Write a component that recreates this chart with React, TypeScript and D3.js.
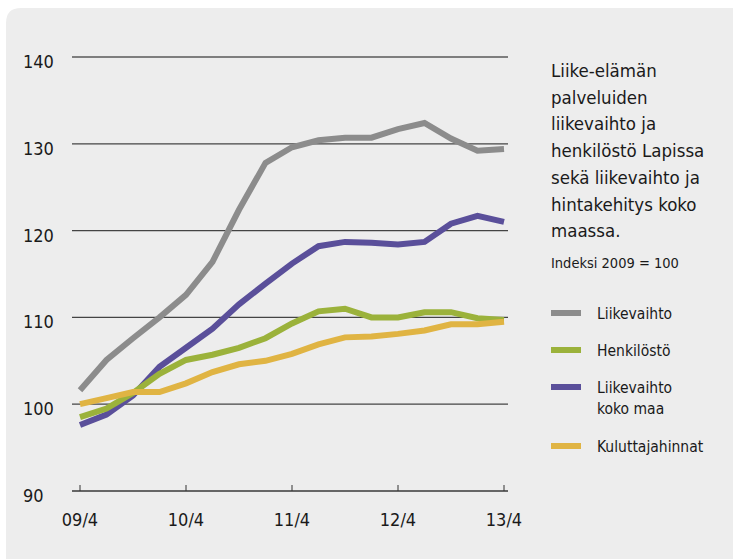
import React from "react";
import * as d3 from "d3";

// quarterly points, 09/4 .. 13/4
const quarters = d3.range(17); // quarter index since 2009 Q4
const tickLabels = ["09/4", "10/4", "11/4", "12/4", "13/4"];
const yTicks = [90, 100, 110, 120, 130, 140];

const liikevaihto = [101.6, 105.1, 107.6, 110.0, 112.6, 116.4, 122.4, 127.8, 129.6, 130.4, 130.7, 130.7, 131.7, 132.4, 130.6, 129.2, 129.4];
const henkilosto = [98.5, 99.5, 101.3, 103.5, 105.1, 105.7, 106.5, 107.6, 109.3, 110.7, 111.0, 110.0, 110.0, 110.6, 110.6, 109.9, 109.7];
const kokoMaa = [97.6, 98.8, 101.0, 104.3, 106.5, 108.7, 111.5, 113.9, 116.2, 118.2, 118.7, 118.6, 118.4, 118.7, 120.8, 121.7, 121.0];
const kuluttajahinnat = [100.0, 100.7, 101.4, 101.4, 102.4, 103.7, 104.6, 105.0, 105.8, 106.9, 107.7, 107.8, 108.1, 108.5, 109.2, 109.2, 109.5];

const seriesNames = ["Liikevaihto", "Henkilöstö", "Liikevaihto\nkoko maa", "Kuluttajahinnat"];
const seriesColors = ["#8c8c8c", "#9bb23b", "#5a4f9a", "#e0b443"];
// drawing order: purple and grey under, green and yellow on top
const drawOrder = [0, 2, 1, 3];

const titleLines = [
  "Liike-elämän",
  "palveluiden",
  "liikevaihto ja",
  "henkilöstö Lapissa",
  "sekä liikevaihto ja",
  "hintakehitys koko",
  "maassa.",
];
const subtitle = "Indeksi 2009 = 100";

const FONT = "'Liberation Sans Narrow', 'DejaVu Sans Condensed', 'Roboto', sans-serif";

const App: React.FC = () => {
  const width = 733;
  const height = 559;
  const data = [liikevaihto, henkilosto, kokoMaa, kuluttajahinnat];

  const x = d3.scaleLinear().domain([0, 16]).range([80, 504]);
  const y = d3.scaleLinear().domain([90, 140]).range([491, 57]);

  const line = d3
    .line<number>()
    .x((_, i) => x(quarters[i]))
    .y((d) => y(d));

  const panel = `M6,23 Q6,8 21,8 L${width},8 L${width},${height} L6,${height} Z`;

  return (
    <svg
      width={width}
      height={height}
      style={{ position: "absolute", left: 0, top: 0, display: "block" }}
      fontFamily={FONT}
    >
      <rect width={width} height={height} fill="#ffffff" />
      <path d={panel} fill="#ededed" />

      {/* grid lines */}
      {yTicks
        .filter((t) => t > 90)
        .map((t) => (
          <line
            key={t}
            x1={72}
            x2={508}
            y1={y(t)}
            y2={y(t)}
            stroke={t === 140 ? "#111" : "#444"}
            strokeWidth={1.2}
          />
        ))}

      {/* x axis */}
      <line x1={72} x2={508} y1={y(90)} y2={y(90)} stroke="#666" strokeWidth={2} />
      {tickLabels.map((l, i) => (
        <g key={l} transform={`translate(${x(i * 4)},0)`}>
          <line y1={y(90) - 6} y2={y(90)} stroke="#333" strokeWidth={1} />
          <text y={526} textAnchor="middle" fontSize={18} fill="#1a1a1a">
            {l}
          </text>
        </g>
      ))}

      {/* y labels */}
      {yTicks.map((t) => (
        <text key={t} x={23} y={y(t) + 11} fontSize={18} fill="#1a1a1a">
          {t}
        </text>
      ))}

      {/* series */}
      {drawOrder.map((k) => (
        <path
          key={k}
          d={line(data[k]) || ""}
          fill="none"
          stroke={seriesColors[k]}
          strokeWidth={6}
          strokeLinejoin="miter"
        />
      ))}

      {/* title */}
      {titleLines.map((t, i) => (
        <text key={t} x={551} y={77 + i * 26.7} fontSize={18.5} fill="#1a1a1a">
          {t}
        </text>
      ))}
      <text x={551} y={268} fontSize={14.5} fill="#1a1a1a">
        {subtitle}
      </text>

      {/* legend */}
      {seriesNames.map((n, i) => {
        const ly = [313, 350, 387, 446][i];
        return (
          <g key={n}>
            <rect x={551} y={ly - 3} width={30} height={6} fill={seriesColors[i]} />
            {n.split("\n").map((s, j) => (
              <text key={s} x={597} y={ly + 6 + j * 21} fontSize={15.5} fill="#1a1a1a">
                {s}
              </text>
            ))}
          </g>
        );
      })}
    </svg>
  );
};

export default App;
